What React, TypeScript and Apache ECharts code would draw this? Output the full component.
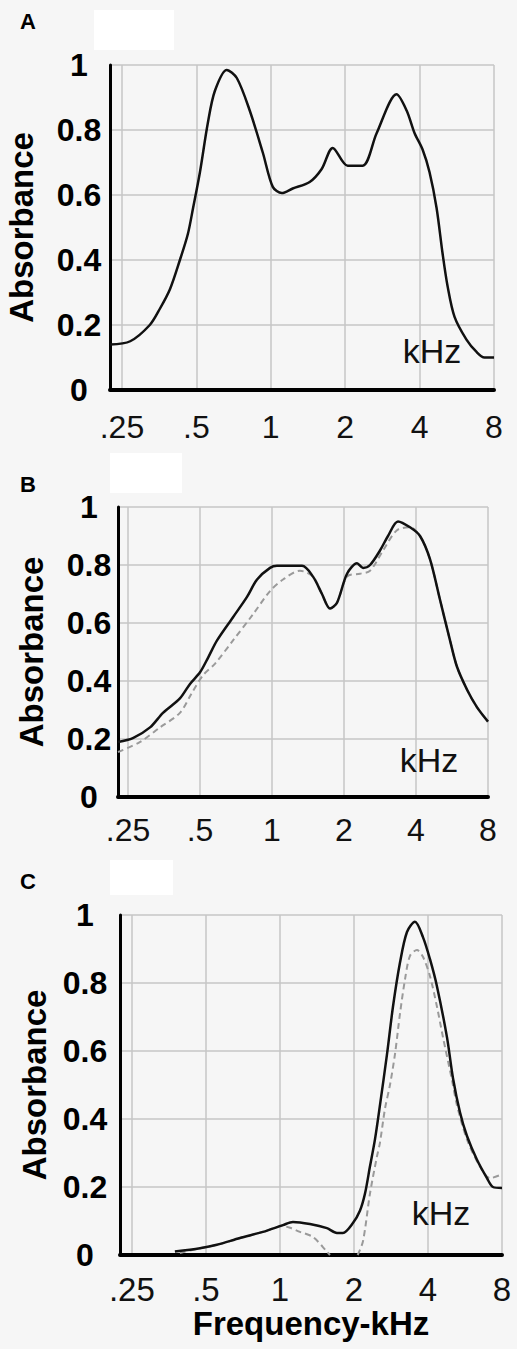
import React, { useEffect, useRef } from "react";
import * as echarts from "echarts";

// ---- axis ticks ----
const xTickValues = [0.25, 0.5, 1, 2, 4, 8];
const xTickLabels = [".25", ".5", "1", "2", "4", "8"];
const panelLetters = ["A", "B", "C"];

// ---- Panel A (solid) ----
const freqA = [0.224, 0.27, 0.324, 0.356, 0.391, 0.429, 0.462, 0.485, 0.517, 0.556, 0.594, 0.664, 0.729, 0.822, 0.929, 1.019, 1.108, 1.227, 1.437, 1.607, 1.781, 2.048, 2.354, 2.681, 3.229, 3.545, 3.819, 4.113, 4.389, 4.686, 4.955, 5.19, 5.54, 6.19, 6.8, 7.32, 8];
const absA = [0.14, 0.15, 0.2, 0.25, 0.31, 0.4, 0.48, 0.56, 0.67, 0.82, 0.92, 0.985, 0.96, 0.86, 0.73, 0.625, 0.606, 0.62, 0.64, 0.68, 0.745, 0.69, 0.69, 0.79, 0.91, 0.86, 0.79, 0.74, 0.67, 0.56, 0.42, 0.32, 0.225, 0.155, 0.117, 0.1, 0.1];

// ---- Panel B ----
const freqBSolid = [0.227, 0.262, 0.309, 0.35, 0.412, 0.454, 0.5, 0.54, 0.589, 0.687, 0.786, 0.866, 0.981, 1.049, 1.335, 1.484, 1.618, 1.748, 1.87, 2.059, 2.267, 2.402, 2.569, 2.828, 3.055, 3.364, 3.776, 4.158, 4.576, 5.04, 5.55, 5.93, 6.54, 7.19, 8];
const absBSolid = [0.19, 0.203, 0.24, 0.29, 0.34, 0.39, 0.43, 0.48, 0.54, 0.62, 0.69, 0.75, 0.79, 0.797, 0.797, 0.76, 0.7, 0.65, 0.67, 0.77, 0.806, 0.79, 0.8, 0.85, 0.9, 0.95, 0.93, 0.9, 0.82, 0.68, 0.54, 0.45, 0.37, 0.31, 0.26];
const freqBDashed = [0.227, 0.281, 0.34, 0.412, 0.463, 0.515, 0.578, 0.687, 0.833, 0.981, 1.112, 1.309, 1.484, 1.618, 1.748, 1.87, 2.059, 2.333, 2.569, 2.912, 3.331, 3.776, 4.158, 4.576, 5.04, 5.55, 5.93, 6.54, 7.19, 8];
const absBDashed = [0.155, 0.19, 0.24, 0.29, 0.36, 0.42, 0.46, 0.54, 0.63, 0.71, 0.75, 0.78, 0.76, 0.7, 0.65, 0.67, 0.76, 0.77, 0.78, 0.85, 0.92, 0.93, 0.9, 0.82, 0.68, 0.54, 0.45, 0.37, 0.31, 0.26];

// ---- Panel C ----
const freqCSolid = [0.374, 0.473, 0.554, 0.688, 0.853, 1.029, 1.13, 1.324, 1.553, 1.705, 1.804, 1.981, 2.115, 2.217, 2.323, 2.435, 2.551, 2.725, 2.882, 3.078, 3.286, 3.541, 3.816, 4.076, 4.352, 4.78, 5.056, 5.397, 5.763, 6.33, 6.95, 7.35, 8];
const absCSolid = [0.01, 0.02, 0.03, 0.05, 0.068, 0.088, 0.097, 0.091, 0.079, 0.065, 0.065, 0.094, 0.13, 0.18, 0.26, 0.34, 0.44, 0.59, 0.73, 0.86, 0.95, 0.98, 0.935, 0.87, 0.79, 0.64, 0.52, 0.42, 0.35, 0.28, 0.226, 0.2, 0.197];
const freqCDashed = [0.392, 0.473, 0.554, 0.688, 0.853, 1.029, 1.1, 1.206, 1.362, 1.553, 1.598, 1.8, 2.07, 2.176, 2.323, 2.481, 2.551, 2.674, 2.802, 2.936, 3.078, 3.225, 3.38, 3.608, 3.816, 4.076, 4.352, 4.605, 5.007, 5.249, 5.763, 6.51, 7.15, 7.85, 8];
const absCDashed = [0.006, 0.02, 0.03, 0.05, 0.068, 0.085, 0.08, 0.068, 0.053, 0.01, 0, null, 0, 0.04, 0.18, 0.29, 0.33, 0.43, 0.5, 0.59, 0.71, 0.81, 0.88, 0.897, 0.877, 0.82, 0.73, 0.64, 0.515, 0.44, 0.34, 0.26, 0.226, 0.235, 0.24];

const FONT = "'Liberation Sans', Arial, Helvetica, sans-serif";

const pairs = (xs: number[], ys: (number | null)[]) => xs.map((x, i) => [x, ys[i]]);

export default function App() {
  const ref = useRef<HTMLDivElement>(null);
  useEffect(() => {
    if (!ref.current) return;
    const chart = echarts.init(ref.current, undefined, { renderer: "svg" });

    const grids = [
      { left: 110, top: 65, width: 384, height: 325 },
      { left: 118, top: 507, width: 370, height: 290 },
      { left: 120, top: 915, width: 382, height: 340 },
    ];
    const xMins = [0.2237, 0.227, 0.2237];
    const xLabelMargins = [21, 17, 18];
    const xLabelSizes = [32, 32, 33];
    const yLabelMargins = [31, 29, 35];
    const yNameGaps = [72, 70, 69];

    const xAxes = grids.map((_, i) => ({
      type: "log",
      logBase: 2,
      gridIndex: i,
      min: xMins[i],
      max: 8,
      splitNumber: 5,
      axisLine: { show: true, lineStyle: { color: "#000", width: 4 } },
      axisTick: { show: false },
      splitLine: { show: true, lineStyle: { color: "#c6c6c6", width: 1.5 } },
      axisLabel: {
        color: "#111",
        fontFamily: FONT,
        fontSize: xLabelSizes[i],
        margin: xLabelMargins[i],
        hideOverlap: false,
        formatter: (v: number) => {
          const k = xTickValues.findIndex((t) => Math.abs(t - v) < 1e-4);
          return k >= 0 ? xTickLabels[k] : "";
        },
      },
      ...(i === 2
        ? {
            name: "Frequency-kHz",
            nameLocation: "middle",
            nameGap: 52,
            nameTextStyle: { color: "#000", fontFamily: FONT, fontSize: 33, fontWeight: "bold" },
          }
        : {}),
    }));

    const yAxes = grids.map((_, i) => ({
      type: "value",
      gridIndex: i,
      min: 0,
      max: 1,
      interval: 0.2,
      name: "Absorbance",
      nameLocation: "middle",
      nameRotate: 90,
      nameGap: yNameGaps[i],
      nameTextStyle: { color: "#000", fontFamily: FONT, fontSize: 33, fontWeight: "bold" },
      axisLine: { show: true, lineStyle: { color: "#000", width: 3 } },
      axisTick: { show: false },
      splitLine: { show: true, lineStyle: { color: "#c6c6c6", width: 1.5 } },
      axisLabel: {
        color: "#000",
        fontFamily: FONT,
        fontSize: 32,
        fontWeight: "bold",
        align: "center",
        margin: yLabelMargins[i],
        formatter: (v: number) => (v === 0 ? "0" : v === 1 ? "1" : v.toFixed(1)),
      },
    }));

    const solid = (data: any[], idx: number) => ({
      type: "line",
      xAxisIndex: idx,
      yAxisIndex: idx,
      data,
      showSymbol: false,
      smooth: 0.3,
      connectNulls: false,
      lineStyle: { color: "#111", width: 2.5 },
      z: 3,
    });
    const dashed = (data: any[], idx: number) => ({
      type: "line",
      xAxisIndex: idx,
      yAxisIndex: idx,
      data,
      showSymbol: false,
      smooth: 0.3,
      connectNulls: false,
      lineStyle: { color: "#9a9a9a", width: 2, type: [6, 4] },
      z: 2,
    });

    const kHzPos = [
      [432, 351],
      [429, 760],
      [441, 1213],
    ];
    const letterPos = [
      [28, 21],
      [28, 484],
      [28, 881],
    ];
    const whiteRects = [
      [94, 10, 80, 40],
      [110, 453, 72, 40],
      [110, 860, 63, 35],
    ];

    const graphics: any[] = [];
    whiteRects.forEach((r) =>
      graphics.push({ type: "rect", shape: { x: r[0], y: r[1], width: r[2], height: r[3] }, style: { fill: "#ffffff" }, silent: true, z: -1 })
    );
    panelLetters.forEach((t, i) =>
      graphics.push({
        type: "text",
        x: letterPos[i][0],
        y: letterPos[i][1],
        style: { text: t, font: `bold 22px ${FONT}`, fill: "#000", textAlign: "center", textVerticalAlign: "middle" },
      })
    );
    kHzPos.forEach((p) =>
      graphics.push({
        type: "text",
        x: p[0],
        y: p[1],
        z: 10,
        style: { text: "kHz", font: `34px ${FONT}`, fill: "#111", textAlign: "center", textVerticalAlign: "middle" },
      })
    );

    chart.setOption({
      animation: false,
      backgroundColor: "#f6f6f6",
      textStyle: { fontFamily: FONT },
      grid: grids.map((g) => ({ ...g, containLabel: false, outerBoundsMode: "none" })),
      xAxis: xAxes,
      yAxis: yAxes,
      series: [
        solid(pairs(freqA, absA), 0),
        dashed(pairs(freqBDashed, absBDashed), 1),
        solid(pairs(freqBSolid, absBSolid), 1),
        dashed(pairs(freqCDashed, absCDashed), 2),
        solid(pairs(freqCSolid, absCSolid), 2),
      ],
      graphic: graphics,
    });
    return () => chart.dispose();
  }, []);

  return (
    <div
      ref={ref}
      style={{ position: "absolute", left: 0, top: 0, width: 517, height: 1349 }}
    />
  );
}
